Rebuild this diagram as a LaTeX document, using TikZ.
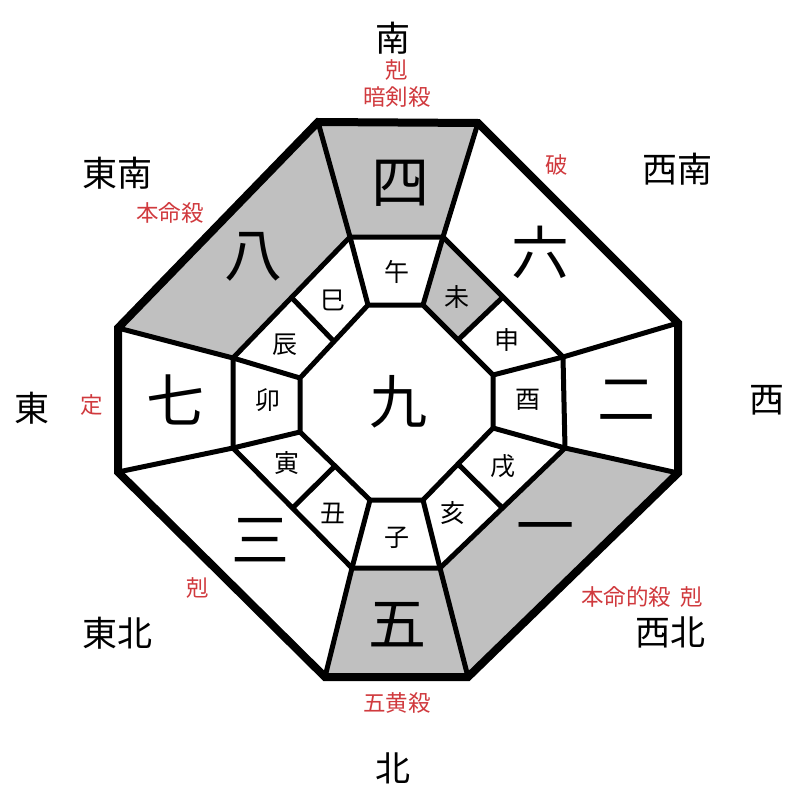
\documentclass[tikz,border=0pt]{standalone}
\usepackage{fontspec}
\setmainfont{Noto Sans CJK JP}
\usepackage{xcolor}
\usepackage{tikz}
\usetikzlibrary{calc}
\definecolor{cellgray}{RGB}{192,192,192}
\definecolor{notered}{RGB}{208,58,62}

\begin{document}
\begin{tikzpicture}[x=1pt, y=-1pt,
  every node/.style={inner sep=0pt},
  outerline/.style={line width=8pt, line join=miter},
  ringline/.style={line width=5pt, line join=miter},
  dirlabel/.style={font=\fontsize{35}{37}\selectfont},
  starnum/.style={font=\fontsize{58}{60}\selectfont},
  branch/.style={font=\fontsize{25}{27}\selectfont},
  note/.style={font=\fontsize{22.5}{24}\selectfont, text=notered}]
  \useasboundingbox (0,0) rectangle (800,800);

  % Outer octagon
  \coordinate (o1) at (318,122); \coordinate (o2) at (478,123);
  \coordinate (o3) at (678,323); \coordinate (o4) at (678,473);
  \coordinate (o5) at (468,677); \coordinate (o6) at (325,677);
  \coordinate (o7) at (118,472); \coordinate (o8) at (118,328);
  % Middle octagon
  \coordinate (m1) at (350,237); \coordinate (m2) at (443,237);
  \coordinate (m3) at (563,357); \coordinate (m4) at (565,448);
  \coordinate (m5) at (440,568); \coordinate (m6) at (352,568);
  \coordinate (m7) at (233,448); \coordinate (m8) at (233,358);
  % Inner octagon
  \coordinate (i1) at (368,305); \coordinate (i2) at (423,305);
  \coordinate (i3) at (493,375); \coordinate (i4) at (493,428);
  \coordinate (i5) at (423,500); \coordinate (i6) at (370,500);
  \coordinate (i7) at (300,432); \coordinate (i8) at (300,378);
  % Dividers on the slanted sides
  \coordinate (mNE) at ($(m2)!0.5!(m3)$); \coordinate (iNE) at ($(i2)!0.5!(i3)$);
  \coordinate (mSE) at ($(m4)!0.5!(m5)$); \coordinate (iSE) at ($(i4)!0.5!(i5)$);
  \coordinate (mSW) at ($(m6)!0.5!(m7)$); \coordinate (iSW) at ($(i6)!0.5!(i7)$);
  \coordinate (mNW) at ($(m8)!0.5!(m1)$); \coordinate (iNW) at ($(i8)!0.5!(i1)$);

  % Shaded cells
  \fill[cellgray] (o1) -- (o2) -- (m2) -- (m1) -- cycle;
  \fill[cellgray] (o1) -- (m1) -- (m8) -- (o8) -- cycle;
  \fill[cellgray] (m6) -- (m5) -- (o5) -- (o6) -- cycle;
  \fill[cellgray] (m4) -- (o4) -- (o5) -- (m5) -- cycle;
  \fill[cellgray] (m2) -- (mNE) -- (iNE) -- (i2) -- cycle;

  % Rings
  \draw[ringline] (m1) -- (m2) -- (m3) -- (m4) -- (m5) -- (m6) -- (m7) -- (m8) -- cycle;
  \draw[ringline] (i1) -- (i2) -- (i3) -- (i4) -- (i5) -- (i6) -- (i7) -- (i8) -- cycle;
  \foreach \k in {1,...,8}
    \draw[ringline] (o\k) -- (m\k) -- (i\k);
  \foreach \d in {NE,SE,SW,NW}
    \draw[ringline] (m\d) -- (i\d);
  \draw[outerline] (o1) -- (o2) -- (o3) -- (o4) -- (o5) -- (o6) -- (o7) -- (o8) -- cycle;

  % Stars
  \node[starnum] (n9) at (398,402) {九};
  \node[starnum] (n4) at (400,183) {四};
  \node[starnum] (n6) at (540,252) {六};
  \node[starnum] (n2) at (626,400) {二};
  \node[starnum] (n1) at (545,535) {一};
  \node[starnum] (n5) at (397,625) {五};
  \node[starnum] (n3) at (260,540) {三};
  \node[starnum] (n7) at (175,400) {七};
  \node[starnum] (n8) at (253,257) {八};

  % Branches
  \node[branch] (uma) at (397,272) {午};
  \node[branch] (hitsuji) at (457,297) {未};
  \node[branch] (saru) at (507,340) {申};
  \node[branch] (tori) at (528,400) {酉};
  \node[branch] (inu) at (503,466) {戌};
  \node[branch] (i) at (453,513) {亥};
  \node[branch] (ne) at (397,538) {子};
  \node[branch] (ushi) at (333,513) {丑};
  \node[branch] (tora) at (287,463) {寅};
  \node[branch] (u) at (268,400) {卯};
  \node[branch] (tatsu) at (285,345) {辰};
  \node[branch] (mi) at (333,300) {巳};

  % Directions
  \node[dirlabel] (south) at (393,38) {南};
  \node[dirlabel] (southeast) at (117,173) {東南};
  \node[dirlabel] (southwest) at (677,169) {西南};
  \node[dirlabel] (east) at (32,408) {東};
  \node[dirlabel] (west) at (767,400) {西};
  \node[dirlabel] (northeast) at (117,633) {東北};
  \node[dirlabel] (northwest) at (670,632) {西北};
  \node[dirlabel] (north) at (393,768) {北};

  % Notes
  \node[note] (kokuS) at (397,70) {剋};
  \node[note] (anken) at (397,97) {暗剣殺};
  \node[note] (ha) at (557,165) {破};
  \node[note] (honmei) at (170,213) {本命殺};
  \node[note] (jou) at (92,405) {定};
  \node[note] (kokuNE) at (198,588) {剋};
  \node[note] (honmeiteki) at (642,597) {本命的殺\hspace{9pt}剋};
  \node[note] (gooh) at (397,703) {五黄殺};
\end{tikzpicture}
\end{document}
